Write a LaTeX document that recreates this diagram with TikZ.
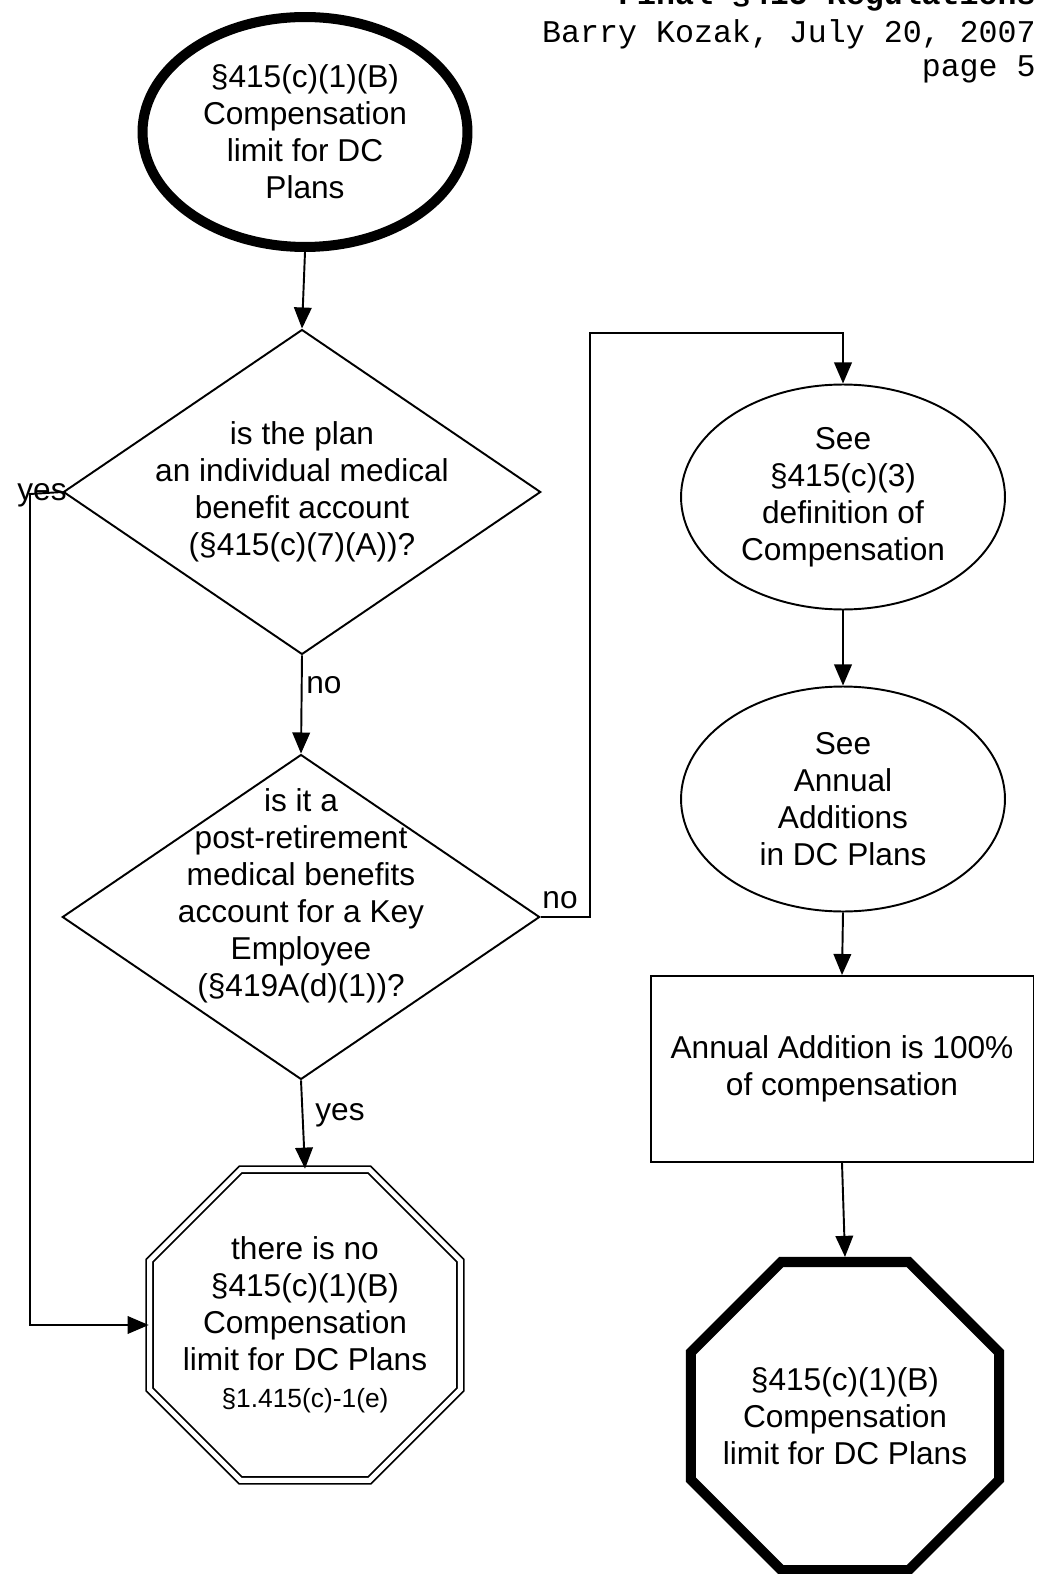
\documentclass[tikz,border=0pt]{standalone}
\usepackage{fontspec}
\setmainfont{Liberation Sans}
\setmonofont{Liberation Mono}
\usetikzlibrary{shapes.geometric,arrows.meta}

\tikzset{
  every node/.style={font=\fontsize{18}{21}\selectfont, align=center},
  hdr/.style={anchor=base east, inner sep=0pt, font=\ttfamily\fontsize{18}{21}\selectfont},
  answer/.style={inner sep=0pt},
  flow/.style={draw, line width=1.1pt, -{Triangle[length=12pt,width=10pt]}},
  decision/.style={draw, diamond, line width=1.1pt, inner sep=0pt,
    minimum width=9.55cm, minimum height=6.5cm},
  oval/.style={draw, ellipse, line width=1.1pt, inner sep=0pt,
    minimum width=6.48cm, minimum height=4.5cm},
  stopsign/.style={draw, regular polygon, regular polygon sides=8, inner sep=0pt}
}

\begin{document}
\begin{tikzpicture}[x=0.02cm, y=-0.02cm]
\useasboundingbox (0,0) rectangle (1038,1574);
\clip (0,0) rectangle (1038,1574);

% header
\node[hdr, font=\ttfamily\bfseries\fontsize{18}{21}\selectfont] (title) at (1036,5) {Final §415 Regulations};
\node[hdr] (author) at (1036,43) {Barry Kozak, July 20, 2007};
\node[hdr] (page) at (1036,77) {page 5};

% left column
\node[draw, ellipse, line width=5.7pt, inner sep=0pt, minimum width=6.5cm, minimum height=4.6cm]
  (start) at (305,132) {§415(c)(1)(B)\\Compensation\\limit for DC\\Plans};

\node[decision, label={[name=plantxt]center:{is the plan\\an individual medical\\benefit account\\(§415(c)(7)(A))?}}]
  (plan) at (302,492) {};

\node[decision, label={[name=keytxt, yshift=0.42cm]center:{is it a\\post-retirement\\medical benefits\\account for a Key\\Employee\\(§419A(d)(1))?}}]
  (key) at (301,917) {};

\node[stopsign, double, line width=1pt, double distance=2.8pt, minimum size=6.73cm,
  label={[name=nolimittxt]center:{there is no\\§415(c)(1)(B)\\Compensation\\limit for DC Plans\\{\fontsize{15}{21}\selectfont §1.415(c)-1(e)}}}]
  (nolimit) at (305,1325) {};

% right column
\node[oval] (comp) at (843,497) {See\\§415(c)(3)\\definition of\\Compensation};
\node[oval] (addit) at (843,799) {See\\Annual\\Additions\\in DC Plans};
\node[draw, line width=1.1pt, inner sep=0pt, minimum width=7.66cm, minimum height=3.72cm]
  (hundred) at (842,1069) {Annual Addition is 100\%\\of compensation};
\node[stopsign, line width=5.7pt, minimum size=6.67cm,
  label={[name=limittxt]center:{§415(c)(1)(B)\\Compensation\\limit for DC Plans}}]
  (limit) at (845,1416) {};

% bends
\coordinate (yesturn) at (30,494);
\coordinate (noturn) at (590,333);

% connectors
\draw[flow] (start.south) -- (plan.north);
\draw[flow] (plan.south) -- (key.north);
\draw[flow] (plan.west) -- (yesturn) |- (nolimit.west);
\draw[flow] (key.south) -- (nolimit.north);
\draw[flow] (key.east) -| (noturn) -| (comp.north);
\draw[flow] (comp.south) -- (addit.north);
\draw[flow] (addit.south) -- (hundred.north);
\draw[flow] (hundred.south) -- (limit.north);

% answers
\node[answer, anchor=base] (yesA) at (42,500) {yes};
\node[answer, anchor=base west] (noA) at (306,693) {no};
\node[answer, anchor=base] (noB) at (560,908) {no};
\node[answer, anchor=base] (yesB) at (340,1120) {yes};
\end{tikzpicture}
\end{document}
